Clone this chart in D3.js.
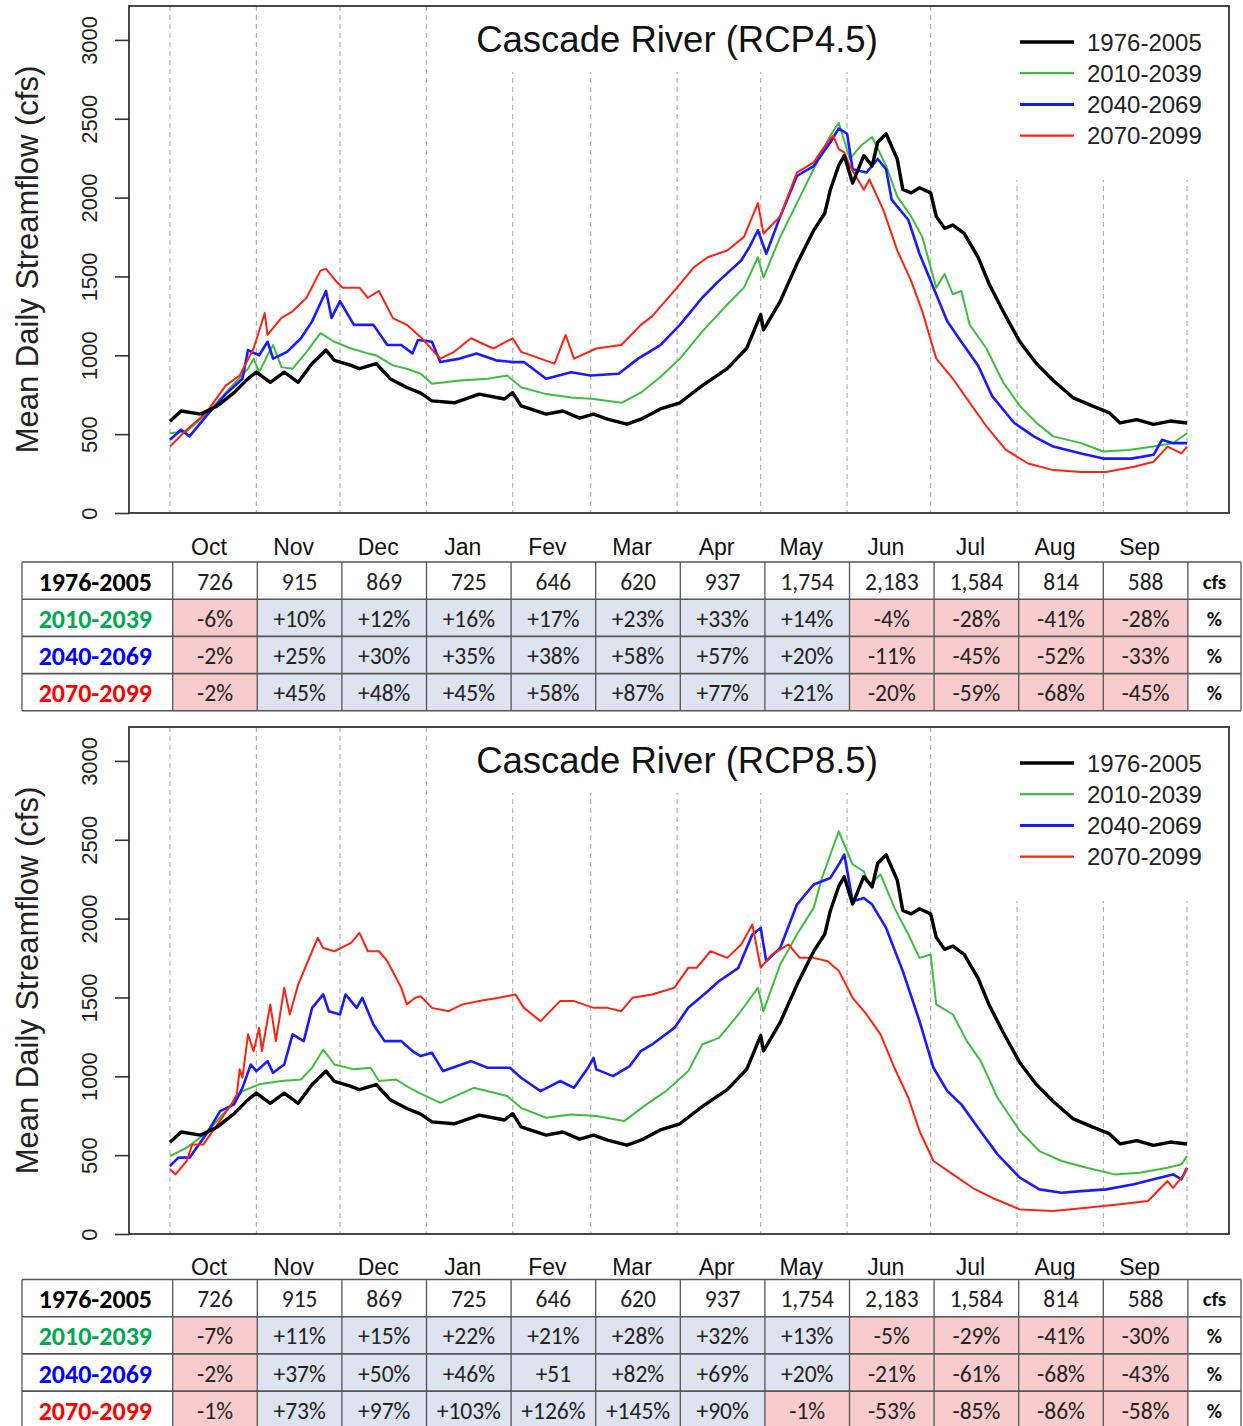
<!DOCTYPE html>
<html>
<head>
<meta charset="utf-8">
<script src="https://d3js.org/d3.v7.min.js"></script>
<style>
  html, body { margin: 0; padding: 0; background: #fff; }
  svg { display: block; }
</style>
</head>
<body>
<div id="chart"></div>
<script>
// ---------------- DATA ----------------
const months = ["Oct","Nov","Dec","Jan","Fev","Mar","Apr","May","Jun","Jul","Aug","Sep"];
const monthStartDays = [0,31,61,92,123,151,182,212,243,273,304,335,365];
const yTicks = [0,500,1000,1500,2000,2500,3000];
const periods = ["1976-2005","2010-2039","2040-2069","2070-2099"];
const titles = ["Cascade River (RCP4.5)","Cascade River (RCP8.5)"];

// [day of water year, mean daily streamflow cfs]
const hist = [[0,582],[4,647],[11,627],[17,679],[23,763],[28,852],[31,893],[36,829],[41,893],[46,829],[51,948],[56,1033],[59,968],[65,936],[68,915],[74,948],[79,852],[85,796],[90,760],[94,711],[102,699],[111,754],[120,723],[123,763],[126,679],[135,627],[141,647],[147,602],[152,627],[157,595],[164,563],[169,595],[176,660],[183,699],[191,808],[200,915],[207,1046],[212,1258],[213,1161],[219,1342],[225,1580],[231,1792],[235,1901],[237,2050],[240,2204],[242,2266],[245,2092],[249,2266],[252,2201],[254,2351],[257,2405],[261,2245],[263,2052],[266,2030],[269,2062],[273,2030],[275,1881],[278,1805],[281,1826],[285,1773],[290,1623],[294,1452],[299,1279],[305,1086],[311,947],[317,840],[324,732],[331,679],[337,637],[341,571],[347,592],[353,562],[359,583],[365,571]];

const rcp45_2010 = [[0,506],[6,518],[13,627],[20,763],[28,915],[30,979],[32,893],[35,1000],[37,1065],[40,925],[44,915],[49,1022],[54,1140],[59,1086],[65,1043],[71,1012],[74,1000],[80,936],[85,915],[90,883],[94,819],[104,840],[114,851],[121,872],[126,797],[135,754],[144,732],[152,723],[162,699],[169,763],[176,862],[183,979],[191,1150],[200,1322],[206,1429],[211,1622],[213,1493],[219,1750],[225,1965],[231,2180],[237,2394],[240,2475],[244,2245],[248,2330],[252,2384],[257,2201],[261,2008],[266,1880],[270,1751],[275,1429],[278,1515],[281,1387],[284,1408],[287,1194],[293,1043],[299,829],[305,679],[311,571],[317,486],[327,443],[335,390],[344,400],[353,421],[360,443],[365,506]];

const rcp45_2040 = [[0,464],[4,528],[7,486],[13,614],[20,754],[26,851],[28,1033],[32,1000],[35,1086],[37,979],[42,1022],[47,1108],[51,1215],[56,1408],[58,1237],[61,1344],[66,1193],[73,1193],[78,1065],[83,1065],[87,1012],[89,1097],[94,1086],[97,957],[104,979],[110,1012],[117,968],[123,957],[127,957],[135,851],[144,893],[151,872],[161,883],[168,979],[176,1065],[183,1193],[191,1365],[197,1472],[205,1601],[208,1688],[211,1793],[214,1644],[219,1880],[225,2137],[231,2200],[237,2351],[240,2438],[243,2405],[245,2180],[250,2159],[254,2245],[257,2180],[259,1987],[265,1858],[269,1644],[274,1429],[279,1215],[284,1086],[290,936],[295,743],[303,571],[310,486],[317,421],[327,377],[335,345],[345,345],[353,369],[356,464],[360,443],[365,443]];

const rcp45_2070 = [[0,422],[6,528],[13,636],[20,808],[25,872],[30,1043],[34,1268],[35,1129],[40,1237],[44,1279],[49,1365],[54,1537],[56,1548],[60,1461],[62,1429],[68,1429],[71,1365],[75,1408],[80,1236],[85,1193],[90,1115],[97,979],[102,1022],[108,1108],[116,1043],[123,1108],[126,1022],[138,947],[142,1129],[145,979],[153,1043],[162,1065],[169,1193],[173,1247],[182,1429],[188,1558],[193,1622],[200,1665],[206,1751],[211,1965],[213,1772],[219,1880],[225,2158],[231,2223],[236,2352],[238,2394],[240,2308],[242,2287],[244,2201],[249,2050],[251,2115],[256,1922],[261,1665],[266,1472],[270,1279],[275,979],[281,851],[287,700],[293,550],[300,400],[308,314],[317,272],[327,260],[336,260],[346,293],[353,325],[358,421],[363,378],[365,421]];

const rcp85_2010 = [[0,494],[6,547],[13,642],[20,779],[26,906],[32,949],[40,970],[47,980],[51,1054],[55,1170],[59,1075],[66,1044],[72,1054],[75,970],[81,980],[86,927],[90,890],[97,832],[109,927],[121,875],[126,800],[135,737],[144,758],[153,748],[163,716],[171,822],[178,906],[186,1033],[191,1202],[197,1244],[204,1392],[211,1561],[213,1413],[219,1709],[225,1899],[231,2068],[234,2258],[240,2554],[245,2343],[249,2300],[251,2216],[255,2280],[260,2068],[265,1899],[269,1751],[273,1772],[275,1456],[281,1392],[286,1223],[291,1096],[297,864],[305,653],[312,526],[320,463],[329,420],[339,378],[348,389],[358,420],[363,442],[365,494]];

const rcp85_2040 = [[0,431],[3,484],[7,484],[13,632],[18,779],[23,822],[26,927],[29,1075],[31,1033],[35,1096],[37,1022],[41,1075],[44,1266],[48,1223],[51,1434],[55,1519],[57,1413],[61,1392],[63,1519],[67,1434],[69,1498],[73,1329],[77,1223],[83,1223],[87,1160],[90,1128],[94,1149],[98,1033],[108,1096],[114,1054],[122,1054],[126,991],[133,906],[140,970],[145,927],[150,1054],[152,1117],[153,1044],[159,1001],[165,1065],[169,1160],[173,1202],[181,1307],[186,1434],[193,1540],[197,1603],[204,1688],[209,1899],[212,1941],[214,1730],[219,1814],[225,2089],[231,2216],[237,2258],[240,2343],[242,2406],[245,2110],[249,2131],[252,2089],[257,1941],[263,1667],[269,1350],[274,1054],[279,906],[284,822],[290,674],[297,505],[305,357],[312,283],[320,262],[327,272],[336,283],[346,315],[353,347],[360,378],[363,347],[365,420]];

const rcp85_2070 = [[0,410],[2,378],[6,463],[8,568],[12,568],[17,695],[22,822],[24,885],[25,1044],[26,991],[28,1266],[30,1160],[32,1307],[33,1160],[36,1456],[38,1223],[41,1561],[43,1392],[46,1582],[49,1709],[53,1878],[55,1814],[59,1793],[65,1846],[68,1909],[71,1793],[75,1793],[78,1730],[83,1561],[85,1456],[88,1498],[90,1508],[94,1434],[100,1413],[105,1456],[111,1477],[118,1498],[124,1519],[127,1434],[133,1350],[140,1477],[145,1477],[152,1434],[157,1434],[162,1413],[166,1498],[173,1519],[181,1561],[186,1688],[189,1688],[194,1793],[200,1751],[205,1836],[209,1963],[212,1688],[216,1772],[222,1836],[226,1751],[231,1751],[236,1730],[240,1670],[245,1498],[250,1392],[255,1266],[260,1054],[265,864],[269,653],[274,463],[281,378],[288,293],[295,230],[305,156],[317,146],[329,167],[341,188],[351,209],[358,336],[360,293],[364,378],[365,420]];

// table values
const baselineCfs = [726,915,869,725,646,620,937,1754,2183,1584,814,588];
const rcp45Pct2010 = ["-6%","+10%","+12%","+16%","+17%","+23%","+33%","+14%","-4%","-28%","-41%","-28%"];
const rcp45Pct2040 = ["-2%","+25%","+30%","+35%","+38%","+58%","+57%","+20%","-11%","-45%","-52%","-33%"];
const rcp45Pct2070 = ["-2%","+45%","+48%","+45%","+58%","+87%","+77%","+21%","-20%","-59%","-68%","-45%"];
const rcp85Pct2010 = ["-7%","+11%","+15%","+22%","+21%","+28%","+32%","+13%","-5%","-29%","-41%","-30%"];
const rcp85Pct2040 = ["-2%","+37%","+50%","+46%","+51","+82%","+69%","+20%","-21%","-61%","-68%","-43%"];
const rcp85Pct2070 = ["-1%","+73%","+97%","+103%","+126%","+145%","+90%","-1%","-53%","-85%","-86%","-58%"];

// ---------------- STYLE ----------------
const lineColors = ["#000000","#3dbf3d","#1a1aff","#ff2211"];
const lineWidths = [3.4, 2, 2.6, 2];
const labelColors = ["#000000","#00a94f","#0000ff","#ff0000"];
const fontChart = "'Liberation Sans', Arial, sans-serif";
const fontTable = "Carlito, Calibri, Lato, 'Open Sans', sans-serif";

const W = 1243, H = 1426;
const svg = d3.select("#chart").append("svg").attr("width", W).attr("height", H);

const panels = [
  {title: titles[0], series: [hist, rcp45_2010, rcp45_2040, rcp45_2070], pct: [rcp45Pct2010, rcp45Pct2040, rcp45Pct2070], boxTop: 6, boxBottom: 513, tableTop: 562, headerY: 547},
  {title: titles[1], series: [hist, rcp85_2010, rcp85_2040, rcp85_2070], pct: [rcp85Pct2010, rcp85Pct2040, rcp85Pct2070], boxTop: 727, boxBottom: 1234, tableTop: 1279.5, headerY: 1267}
];

const boxLeft = 129, boxRight = 1229;
const x = d3.scaleLinear().domain([0, 365]).range([170, 1187]);

panels.forEach(p => {
  const g = svg.append("g");
  const y = d3.scaleLinear().domain([0, 3215]).range([p.boxBottom, p.boxTop]);

  // gridlines (month boundaries)
  g.selectAll("line.grid").data(monthStartDays).enter().append("line")
    .attr("x1", d => x(d)).attr("x2", d => x(d))
    .attr("y1", p.boxTop).attr("y2", p.boxBottom)
    .attr("stroke", "#b5b5b5").attr("stroke-width", 1.2).attr("stroke-dasharray", "5,4");

  // white backgrounds for title and legend
  g.append("rect").attr("x", 432).attr("y", p.boxTop + 1).attr("width", 490).attr("height", 65).attr("fill", "#fff");
  g.append("rect").attr("x", 992).attr("y", p.boxTop + 1).attr("width", boxRight - 993).attr("height", 173).attr("fill", "#fff");

  // series lines
  const line = d3.line().x(d => x(d[0])).y(d => y(d[1]));
  const order = [1, 2, 3, 0];
  order.forEach(i => {
    g.append("path").datum(p.series[i]).attr("d", line)
      .attr("fill", "none").attr("stroke", lineColors[i]).attr("stroke-width", lineWidths[i])
      .attr("stroke-linejoin", "round");
  });

  // box
  g.append("rect").attr("x", boxLeft).attr("y", p.boxTop).attr("width", boxRight - boxLeft).attr("height", p.boxBottom - p.boxTop)
    .attr("fill", "none").attr("stroke", "#333").attr("stroke-width", 1.8);

  // y axis
  const yAxis = d3.axisLeft(y).tickValues(yTicks).tickSize(14).tickFormat(d3.format("d"));
  const ax = g.append("g").attr("transform", `translate(${boxLeft},0)`).call(yAxis);
  ax.select(".domain").remove();
  ax.selectAll(".tick line").attr("stroke", "#333").attr("stroke-width", 1.6);
  ax.selectAll(".tick text")
    .attr("x", 0).attr("dy", null).attr("y", 0)
    .attr("transform", "translate(-40,0) rotate(-90)")
    .attr("text-anchor", "middle").attr("dominant-baseline", "central")
    .attr("font-family", fontChart).attr("font-size", 22).attr("fill", "#222");

  // y axis title
  const cy = (p.boxTop + p.boxBottom) / 2;
  g.append("text").attr("transform", `translate(27,${cy}) rotate(-90)`)
    .attr("text-anchor", "middle").attr("dominant-baseline", "central")
    .attr("font-family", fontChart).attr("font-size", 31).attr("fill", "#222")
    .text("Mean Daily Streamflow (cfs)");

  // title
  g.append("text").attr("x", 677).attr("y", p.boxTop + 46)
    .attr("text-anchor", "middle").attr("font-family", fontChart).attr("font-size", 36.5).attr("fill", "#111")
    .text(p.title);

  // legend
  periods.forEach((name, i) => {
    const ly = p.boxTop + 36 + i * 31.2;
    g.append("line").attr("x1", 1020).attr("x2", 1074).attr("y1", ly).attr("y2", ly)
      .attr("stroke", lineColors[i]).attr("stroke-width", i === 0 ? 3.4 : (i === 2 ? 3 : 2.2));
    g.append("text").attr("x", 1087).attr("y", ly).attr("dominant-baseline", "central")
      .attr("font-family", fontChart).attr("font-size", 24).attr("fill", "#222").text(name);
  });

  // ---------- table ----------
  const tL = 22, labelW = 150.7, colW = 84.6, rowH = 37.2;
  const monthX0 = tL + labelW;
  const unitX = monthX0 + 12 * colW;
  const tR = 1241;
  const tT = p.tableTop;
  const tg = svg.append("g");

  // header months
  tg.selectAll("text.hdr").data(months).enter().append("text")
    .attr("x", (d, i) => monthX0 + i * colW + colW / 2 - 6)
    .attr("y", p.headerY).attr("text-anchor", "middle").attr("dominant-baseline", "central")
    .attr("font-family", fontChart).attr("font-size", 23).attr("fill", "#111").text(d => d);

  // rows data
  const rows = [
    {label: periods[0], cells: baselineCfs.map(d3.format(",")), unit: "cfs", color: labelColors[0], shade: false},
    {label: periods[1], cells: p.pct[0], unit: "%", color: labelColors[1], shade: true},
    {label: periods[2], cells: p.pct[1], unit: "%", color: labelColors[2], shade: true},
    {label: periods[3], cells: p.pct[2], unit: "%", color: labelColors[3], shade: true}
  ];

  rows.forEach((r, ri) => {
    const ry = tT + ri * rowH;
    if (r.shade) {
      tg.selectAll(null).data(r.cells).enter().append("rect")
        .attr("x", (d, i) => monthX0 + i * colW).attr("y", ry)
        .attr("width", colW).attr("height", rowH)
        .attr("fill", d => d.trim().startsWith("-") ? "#f8cccc" : "#dde3ef");
    }
    tg.append("text").attr("x", tL + labelW / 2 - 2).attr("y", ry + rowH / 2 + 1)
      .attr("text-anchor", "middle").attr("dominant-baseline", "central")
      .attr("font-family", fontTable).attr("font-weight", "bold").attr("font-size", 26)
      .attr("fill", r.color).text(r.label);
    tg.selectAll(null).data(r.cells).enter().append("text")
      .attr("x", (d, i) => monthX0 + i * colW + colW / 2).attr("y", ry + rowH / 2 + 1)
      .attr("text-anchor", "middle").attr("dominant-baseline", "central")
      .attr("font-family", fontTable).attr("font-size", 23.5).attr("fill", "#222").text(d => d);
    tg.append("text").attr("x", (unitX + tR) / 2).attr("y", ry + rowH / 2 + 1)
      .attr("text-anchor", "middle").attr("dominant-baseline", "central")
      .attr("font-family", fontTable).attr("font-weight", "bold").attr("font-size", 21)
      .attr("fill", "#111").text(r.unit);
  });

  // grid lines of table
  const tB = tT + 4 * rowH;
  d3.range(5).forEach(i => {
    tg.append("line").attr("x1", tL).attr("x2", tR).attr("y1", tT + i * rowH).attr("y2", tT + i * rowH)
      .attr("stroke", "#555").attr("stroke-width", 1.6);
  });
  const vx = [tL, monthX0].concat(d3.range(1, 13).map(i => monthX0 + i * colW)).concat([tR]);
  vx.forEach(xv => {
    tg.append("line").attr("x1", xv).attr("x2", xv).attr("y1", tT).attr("y2", tB)
      .attr("stroke", "#555").attr("stroke-width", 1.3);
  });
});
</script>
</body>
</html>
